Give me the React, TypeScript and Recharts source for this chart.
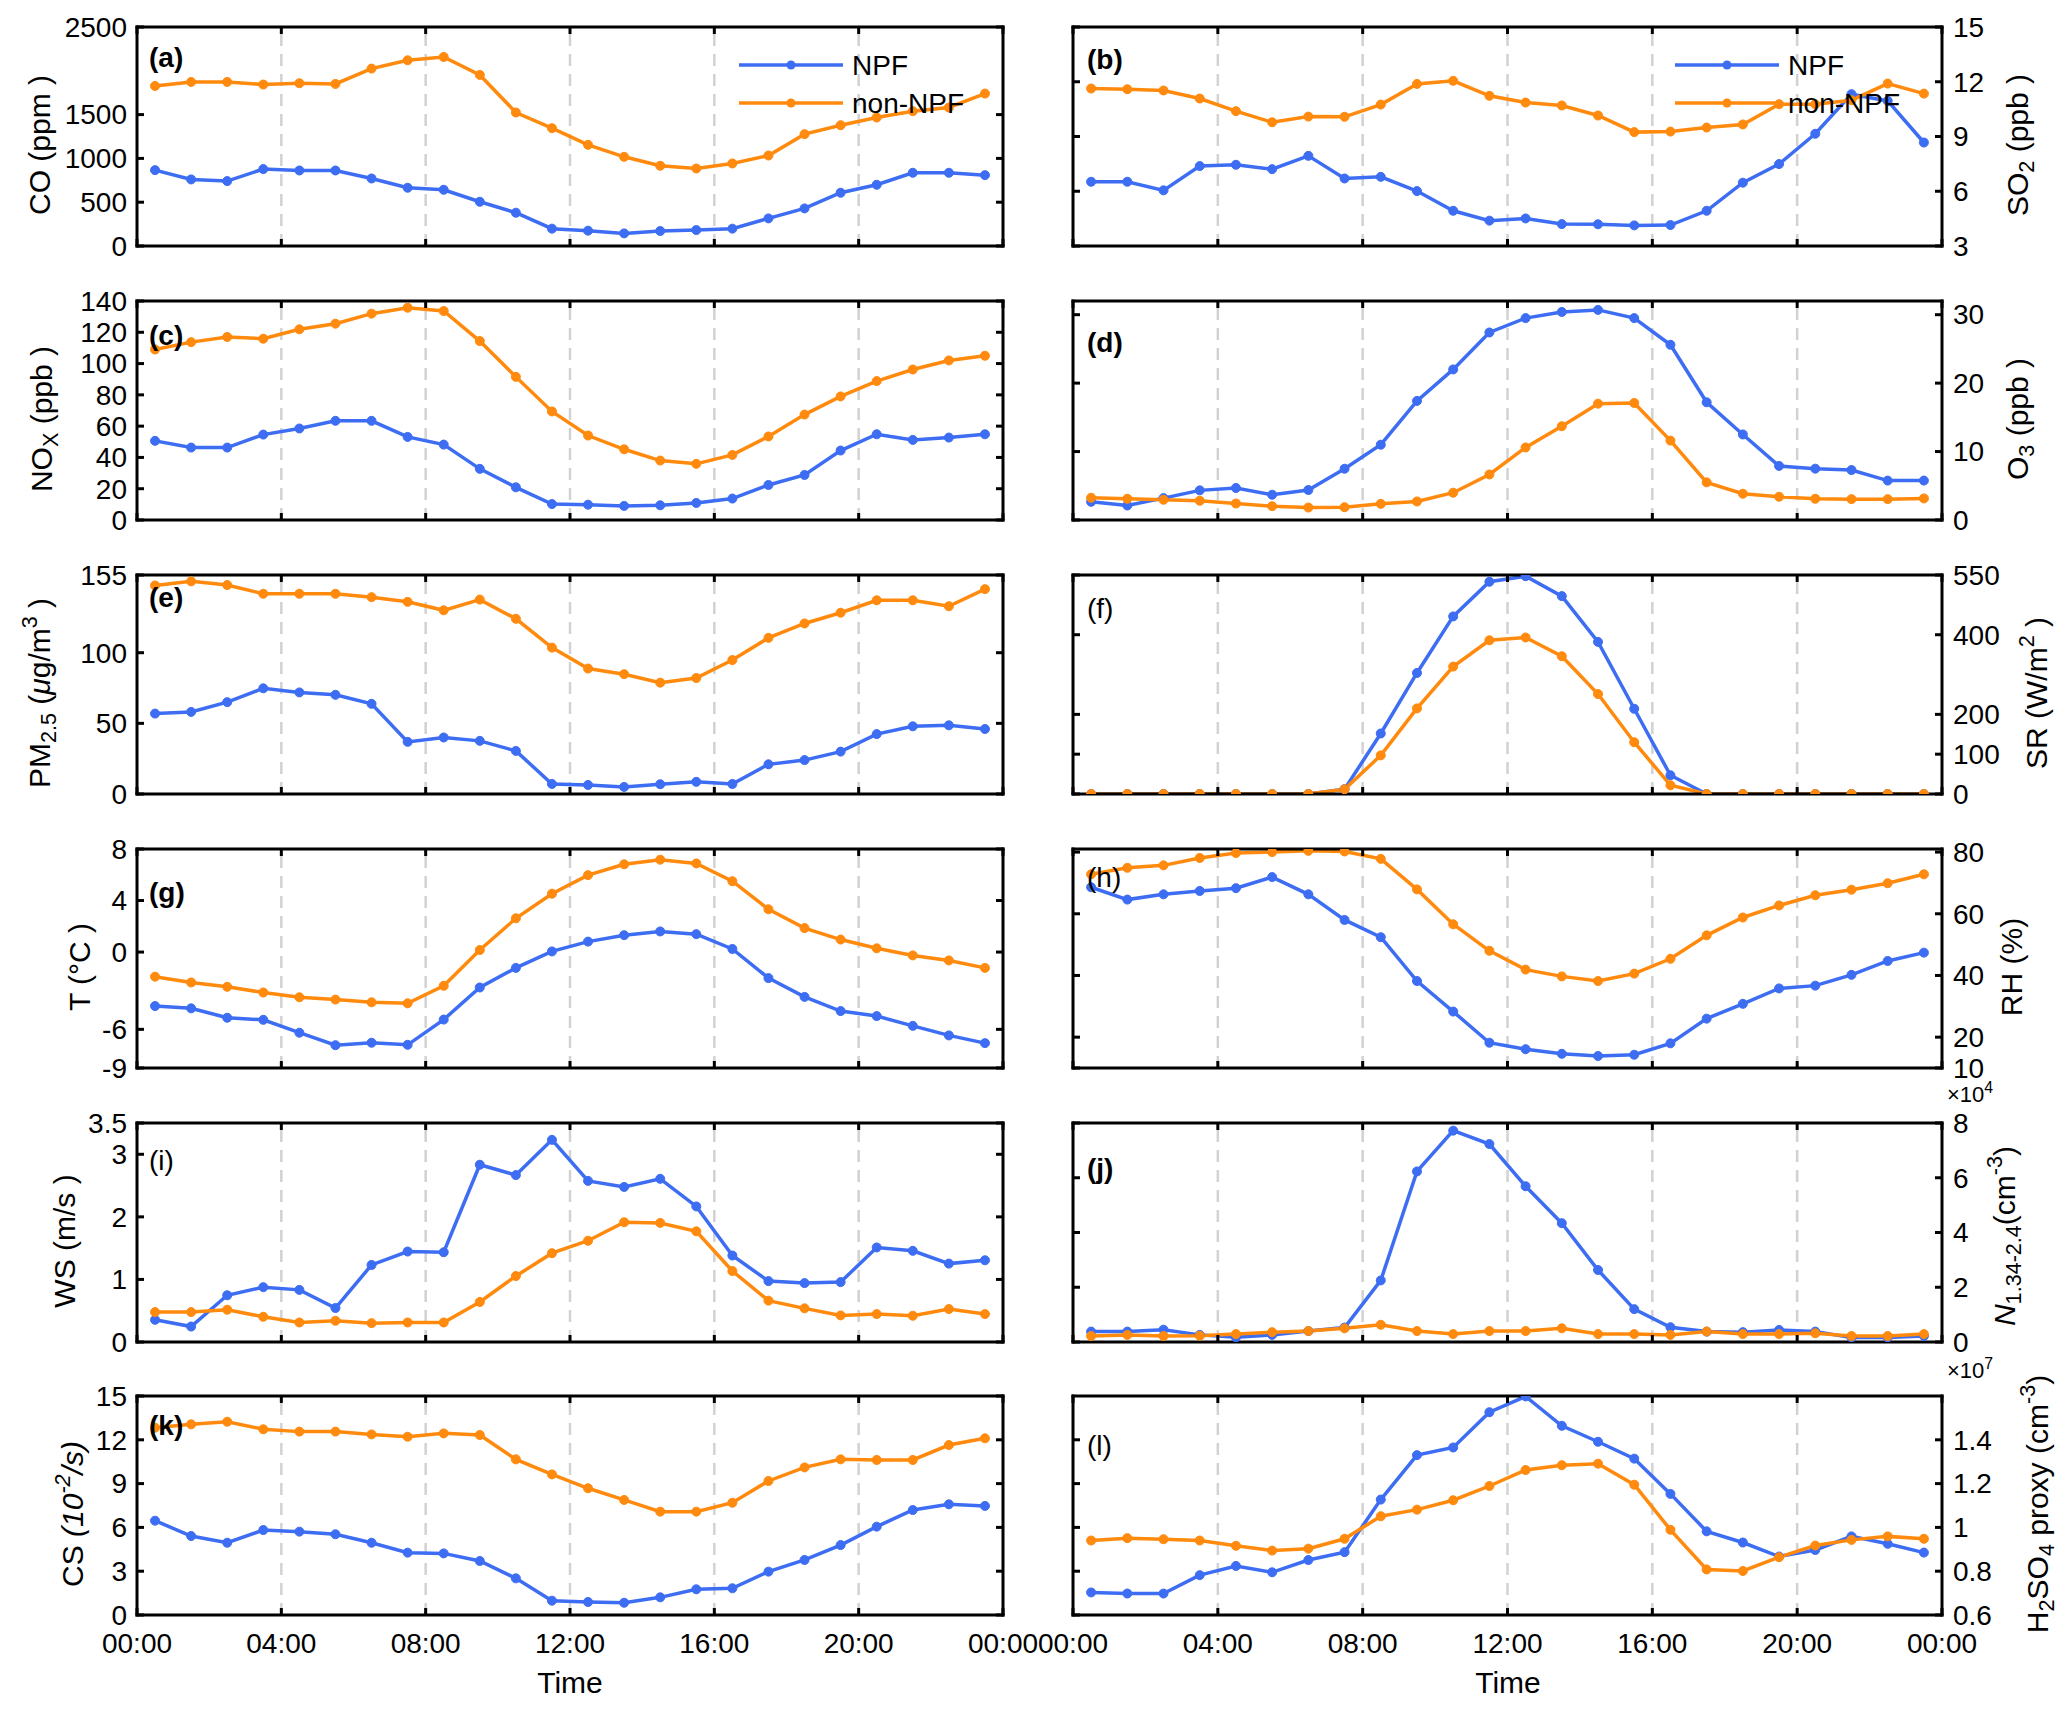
import React from "react";
import { LineChart, Line, XAxis, YAxis, ReferenceLine } from "recharts";

const FONT = "'Liberation Sans', Arial, Helvetica, sans-serif";
const BLUE = "#3D6DF2";
const ORANGE = "#FF8A0D";
const GRID = "#d2d2d2";
const TICK_LEN = 7;
const AX = 1; // reserved axis size

// ---------- categories ----------
const hours = [0.5, 1.5, 2.5, 3.5, 4.5, 5.5, 6.5, 7.5, 8.5, 9.5, 10.5, 11.5, 12.5, 13.5, 14.5, 15.5, 16.5, 17.5, 18.5, 19.5, 20.5, 21.5, 22.5, 23.5];
const xTickValues = [0, 4, 8, 12, 16, 20, 24];
const xTickLabels = ["00:00", "04:00", "08:00", "12:00", "16:00", "20:00", "00:00"];
const gridHours = [4, 8, 12, 16, 20];

// ---------- series ----------
const coNPF = [866, 760, 741, 878, 862, 862, 771, 665, 642, 505, 380, 198, 175, 144, 171, 182, 198, 315, 429, 608, 699, 836, 836, 809];
const coNon = [1827, 1873, 1873, 1843, 1858, 1850, 2025, 2120, 2158, 1953, 1524, 1345, 1155, 1018, 916, 885, 942, 1033, 1277, 1379, 1467, 1539, 1581, 1740];

const so2NPF = [6.52, 6.52, 6.05, 7.38, 7.45, 7.21, 7.94, 6.7, 6.79, 6.01, 4.93, 4.39, 4.51, 4.2, 4.19, 4.13, 4.15, 4.93, 6.47, 7.49, 9.15, 11.32, 10.95, 8.67];
const so2Non = [11.63, 11.59, 11.52, 11.08, 10.39, 9.78, 10.09, 10.08, 10.75, 11.88, 12.05, 11.23, 10.86, 10.7, 10.15, 9.24, 9.27, 9.49, 9.66, 10.77, 10.77, 10.99, 11.9, 11.35];

const noxNPF = [50.6, 46.3, 46.3, 54.6, 58.5, 63.4, 63.4, 53.1, 48.2, 32.7, 20.9, 10.2, 9.8, 9.0, 9.4, 10.9, 13.7, 22.4, 28.8, 44.4, 54.8, 51.2, 52.7, 54.8];
const noxNon = [109, 113.7, 117, 115.9, 121.9, 125.5, 131.9, 135.7, 133.6, 114.4, 91.5, 69.4, 54, 45.2, 38, 35.9, 41.6, 53.4, 67.4, 79, 88.8, 96.2, 102, 105];

const o3NPF = [2.66, 2.12, 3.2, 4.33, 4.68, 3.69, 4.38, 7.49, 11.0, 17.4, 22.0, 27.4, 29.5, 30.4, 30.7, 29.5, 25.6, 17.2, 12.5, 7.9, 7.5, 7.3, 5.76, 5.76];
const o3Non = [3.25, 3.1, 2.96, 2.81, 2.41, 2.02, 1.82, 1.87, 2.36, 2.71, 3.99, 6.65, 10.6, 13.7, 17.0, 17.1, 11.6, 5.5, 3.84, 3.4, 3.1, 3.05, 3.05, 3.15];

const pmNPF = [56.9, 58.1, 65, 74.8, 71.9, 70.2, 63.8, 36.9, 40, 37.6, 30.5, 7.1, 6.4, 5, 6.9, 8.6, 7.1, 21, 24, 30, 42.4, 47.9, 48.6, 46];
const pmNon = [147.6, 150.5, 147.9, 141.7, 141.7, 141.7, 139.3, 136, 130, 137.6, 124, 103.6, 88.8, 84.8, 78.8, 82.1, 94.8, 110.5, 120.7, 128.3, 137.1, 137.1, 132.9, 145];

const srNPF = [0, 0, 0, 0, 0, 0, 0, 12, 152, 304, 446, 533, 547, 497, 382, 214, 47, 0, 0, 0, 0, 0, 0, 0];
const srNon = [0, 0, 0, 0, 0, 0, 0, 12, 97, 215, 320, 386, 393, 346, 251, 130, 22, 0, 0, 0, 0, 0, 0, 0];

const tNPF = [-4.19, -4.37, -5.1, -5.26, -6.26, -7.23, -7.04, -7.2, -5.24, -2.75, -1.23, 0.05, 0.81, 1.31, 1.6, 1.39, 0.24, -2.02, -3.48, -4.58, -4.97, -5.73, -6.47, -7.07];
const tNon = [-1.91, -2.36, -2.7, -3.14, -3.51, -3.69, -3.9, -3.98, -2.62, 0.16, 2.62, 4.53, 5.97, 6.81, 7.17, 6.88, 5.5, 3.32, 1.86, 0.97, 0.29, -0.26, -0.65, -1.23];

const rhNPF = [68.6, 64.6, 66.3, 67.4, 68.3, 71.9, 66.3, 58, 52.4, 38.2, 28.3, 18.2, 16.1, 14.6, 13.9, 14.3, 18, 26, 30.8, 35.8, 36.7, 40.2, 44.7, 47.4];
const rhNon = [72.8, 74.9, 75.7, 78.1, 79.7, 80, 80.4, 80.2, 77.8, 67.9, 56.6, 48, 41.9, 39.7, 38.2, 40.6, 45.4, 53, 58.8, 62.7, 66, 67.8, 69.9, 72.8];

const wsNPF = [0.355, 0.247, 0.747, 0.876, 0.833, 0.543, 1.231, 1.446, 1.435, 2.833, 2.667, 3.231, 2.575, 2.478, 2.608, 2.167, 1.382, 0.973, 0.941, 0.957, 1.511, 1.457, 1.253, 1.306];
const wsNon = [0.478, 0.478, 0.516, 0.403, 0.312, 0.339, 0.301, 0.312, 0.312, 0.64, 1.054, 1.419, 1.618, 1.914, 1.903, 1.769, 1.134, 0.661, 0.538, 0.425, 0.446, 0.419, 0.527, 0.446];

const nNPF = [3800, 3800, 4500, 2600, 1700, 2600, 4000, 5300, 22500, 62300, 77200, 72300, 56900, 43400, 26300, 12000, 5400, 3800, 3600, 4400, 3800, 1600, 1600, 2200];
const nNon = [2200, 2600, 2200, 2300, 2900, 3600, 4000, 5000, 6300, 4000, 2900, 4000, 4000, 5000, 2900, 2900, 2600, 3800, 2900, 2900, 3200, 2200, 2200, 2900];

const csNPF = [6.46, 5.41, 4.95, 5.82, 5.71, 5.53, 4.95, 4.27, 4.22, 3.7, 2.51, 0.98, 0.89, 0.84, 1.21, 1.76, 1.83, 2.97, 3.77, 4.79, 6.05, 7.19, 7.58, 7.47];
const csNon = [12.83, 13.06, 13.24, 12.72, 12.56, 12.56, 12.37, 12.21, 12.44, 12.33, 10.66, 9.63, 8.68, 7.88, 7.08, 7.08, 7.69, 9.18, 10.11, 10.66, 10.62, 10.62, 11.64, 12.1];

const h2NPF = [7030000, 6980000, 6980000, 7820000, 8240000, 7950000, 8510000, 8870000, 11270000, 13300000, 13650000, 15260000, 15980000, 14640000, 13910000, 13140000, 11530000, 9820000, 9310000, 8670000, 8970000, 9590000, 9250000, 8850000];
const h2Non = [9400000, 9510000, 9460000, 9400000, 9160000, 8940000, 9030000, 9480000, 10510000, 10810000, 11240000, 11890000, 12620000, 12840000, 12910000, 11950000, 9890000, 8080000, 8010000, 8640000, 9170000, 9430000, 9590000, 9480000];

// ---------- y tick values ----------
const coTicks = [0, 500, 1000, 1500, 2500];
const so2Ticks = [3, 6, 9, 12, 15];
const noxTicks = [0, 20, 40, 60, 80, 100, 120, 140];
const o3Ticks = [0, 10, 20, 30];
const pmTicks = [0, 50, 100, 155];
const srTicks = [0, 100, 200, 400, 550];
const tTicks = [-9, -6, 0, 4, 8];
const rhTicks = [10, 20, 40, 60, 80];
const wsTicks = [0, 1, 2, 3, 3.5];
const nTicks = [0, 20000, 40000, 60000, 80000];
const csTicks = [0, 3, 6, 9, 12, 15];
const h2Ticks = [6000000, 8000000, 10000000, 12000000, 14000000];

// ---------- layout ----------
const PANEL_TOPS = [27, 301, 575, 849, 1123, 1396];
const PLOT_H = 219;
const PLOT_L = [137, 1073];
const PLOT_R = [1003, 1942];
const SVG_L = [0, 1005];
const SVG_W = [1040, 1062];

const sub = { fontSize: "0.72em", verticalAlign: "-0.3em", lineHeight: 0 } as React.CSSProperties;
const sup = { fontSize: "0.72em", verticalAlign: "0.6em", lineHeight: 0 } as React.CSSProperties;

const fmtPlain = (v: number) => String(v);
const fmtE4 = (v: number) => String(v / 10000);
const fmtE7 = (v: number) => String(Math.round(v / 100000) / 100);

const panels = [
  { id: "a", col: 0, row: 0, npf: coNPF, non: coNon, domain: [0, 2500], ticks: coTicks, fmt: fmtPlain, lt: 20, bold: true, lx: 40, ldy: 8, label: <>CO (ppm )</> },
  { id: "b", col: 1, row: 0, npf: so2NPF, non: so2Non, domain: [3, 15], ticks: so2Ticks, fmt: fmtPlain, lt: 22, bold: true, lx: 2018, ldy: 8, label: <>SO<span style={sub}>2</span> (ppb )</> },
  { id: "c", col: 0, row: 1, npf: noxNPF, non: noxNon, domain: [0, 140], ticks: noxTicks, fmt: fmtPlain, lt: 24, bold: true, lx: 42, ldy: 8, label: <>NO<span style={sub}>X</span> (ppb )</> },
  { id: "d", col: 1, row: 1, npf: o3NPF, non: o3Non, domain: [0, 32], ticks: o3Ticks, fmt: fmtPlain, lt: 31, bold: true, lx: 2018, ldy: 8, label: <>O<span style={sub}>3</span> (ppb )</> },
  { id: "e", col: 0, row: 2, npf: pmNPF, non: pmNon, domain: [0, 155], ticks: pmTicks, fmt: fmtPlain, lt: 12, bold: true, lx: 40, ldy: 8, label: <>PM<span style={sub}>2.5</span> (<i>μ</i>g/m<span style={sup}>3</span> )</> },
  { id: "f", col: 1, row: 2, npf: srNPF, non: srNon, domain: [0, 550], ticks: srTicks, fmt: fmtPlain, lt: 23, bold: false, lx: 2037, ldy: 8, label: <>SR (W/m<span style={sup}>2</span> )</> },
  { id: "g", col: 0, row: 3, npf: tNPF, non: tNon, domain: [-9, 8], ticks: tTicks, fmt: fmtPlain, lt: 33, bold: true, lx: 80, ldy: 8, label: <>T (°C )</> },
  { id: "h", col: 1, row: 3, npf: rhNPF, non: rhNon, domain: [10, 81], ticks: rhTicks, fmt: fmtPlain, lt: 18, bold: false, lx: 2012, ldy: 8, label: <>RH (%)</> },
  { id: "i", col: 0, row: 4, npf: wsNPF, non: wsNon, domain: [0, 3.5], ticks: wsTicks, fmt: fmtPlain, lt: 27, bold: false, lx: 65, ldy: 8, label: <>WS (m/s )</> },
  { id: "j", col: 1, row: 4, npf: nNPF, non: nNon, domain: [0, 80000], ticks: nTicks, fmt: fmtE4, lt: 35, bold: true, lx: 2005, ldy: 3, label: <><i>N</i><span style={sub}>1.34-2.4</span>(cm<span style={sup}>-3</span>)</> },
  { id: "k", col: 0, row: 5, npf: csNPF, non: csNon, domain: [0, 15], ticks: csTicks, fmt: fmtPlain, lt: 19, bold: true, lx: 73, ldy: 8, label: <>CS <i>(10<span style={sup}>-2</span>/s)</i></> },
  { id: "l", col: 1, row: 5, npf: h2NPF, non: h2Non, domain: [6000000, 16000000], ticks: h2Ticks, fmt: fmtE7, lt: 39, bold: false, lx: 2038, ldy: -2, label: <>H<span style={sub}>2</span>SO<span style={sub}>4</span> proxy (cm<span style={sup}>-3</span>)</> },
];

function makeXTick(side: "top" | "bottom", showLabel: boolean) {
  return (props: any) => {
    const { x, y, payload } = props;
    const dir = side === "bottom" ? -1 : 1;
    const idx = xTickValues.indexOf(payload.value);
    return (
      <g>
        <line x1={x} y1={y} x2={x} y2={y + dir * TICK_LEN} stroke="#000" strokeWidth={3} />
        {showLabel && (
          <text x={x} y={y + 38} textAnchor="middle" fontSize={28} fontFamily={FONT} fill="#000">
            {xTickLabels[idx]}
          </text>
        )}
      </g>
    );
  };
}

function makeYTick(side: "left" | "right", showLabel: boolean, fmt: (v: number) => string) {
  return (props: any) => {
    const { x, y, payload } = props;
    const dir = side === "left" ? 1 : -1;
    return (
      <g>
        <line x1={x} y1={y} x2={x + dir * TICK_LEN} y2={y} stroke="#000" strokeWidth={3} />
        {showLabel && (
          <text
            x={side === "left" ? x - 10 : x + 11}
            y={y}
            dy="0.35em"
            textAnchor={side === "left" ? "end" : "start"}
            fontSize={28}
            fontFamily={FONT}
            fill="#000"
          >
            {fmt(payload.value)}
          </text>
        )}
      </g>
    );
  };
}

const frameLine = { stroke: "#000", strokeWidth: 3, strokeLinecap: "square" as const };

function Panel({ p }: { p: any }) {
  const top = PANEL_TOPS[p.row];
  const svgLeft = SVG_L[p.col];
  const svgW = SVG_W[p.col];
  const svgH = p.row === 5 ? 320 : 274;
  const margin = {
    top: 27 - AX,
    bottom: svgH - 27 - PLOT_H - AX,
    left: PLOT_L[p.col] - svgLeft - AX,
    right: svgLeft + svgW - PLOT_R[p.col] - AX,
  };
  const data = hours.map((h, i) => ({ h, npf: p.npf[i], non: p.non[i] }));
  const isBottom = p.row === 5;
  return (
    <div style={{ position: "absolute", left: svgLeft, top: top - 27 }}>
      <LineChart width={svgW} height={svgH} data={data} margin={margin}>
        <XAxis
          xAxisId="b"
          dataKey="h"
          type="number"
          domain={[0, 24]}
          ticks={xTickValues}
          interval={0}
          allowDataOverflow
          orientation="bottom"
          height={AX}
          tickSize={0}
          tickMargin={0}
          axisLine={frameLine}
          tickLine={false}
          tick={makeXTick("bottom", isBottom)}
        />
        <XAxis
          xAxisId="t"
          dataKey="h"
          type="number"
          domain={[0, 24]}
          ticks={xTickValues}
          interval={0}
          allowDataOverflow
          orientation="top"
          height={AX}
          tickSize={0}
          tickMargin={0}
          axisLine={frameLine}
          tickLine={false}
          tick={makeXTick("top", false)}
        />
        <YAxis
          yAxisId="l"
          type="number"
          domain={p.domain}
          ticks={p.ticks}
          interval={0}
          allowDataOverflow
          orientation="left"
          width={AX}
          tickSize={0}
          tickMargin={0}
          axisLine={frameLine}
          tickLine={false}
          tick={makeYTick("left", p.col === 0, p.fmt)}
        />
        <YAxis
          yAxisId="r"
          type="number"
          domain={p.domain}
          ticks={p.ticks}
          interval={0}
          allowDataOverflow
          orientation="right"
          width={AX}
          tickSize={0}
          tickMargin={0}
          axisLine={frameLine}
          tickLine={false}
          tick={makeYTick("right", p.col === 1, p.fmt)}
        />
        {gridHours.map((g) => (
          <ReferenceLine key={g} x={g} xAxisId="b" yAxisId="l" stroke={GRID} strokeWidth={2.5} strokeDasharray="12 8" />
        ))}
        <Line
          type="linear"
          dataKey="npf"
          xAxisId="b"
          yAxisId="l"
          stroke={BLUE}
          strokeWidth={3.5}
          dot={{ r: 4.5, fill: BLUE, stroke: BLUE, strokeWidth: 1 }}
          activeDot={false}
          isAnimationActive={false}
        />
        <Line
          type="linear"
          dataKey="non"
          xAxisId="b"
          yAxisId="l"
          stroke={ORANGE}
          strokeWidth={3.5}
          dot={{ r: 4.5, fill: ORANGE, stroke: ORANGE, strokeWidth: 1 }}
          activeDot={false}
          isAnimationActive={false}
        />
      </LineChart>
    </div>
  );
}

function LegendBox({ x, y }: { x: number; y: number }) {
  const items = [
    { name: "NPF", color: BLUE },
    { name: "non-NPF", color: ORANGE },
  ];
  return (
    <svg style={{ position: "absolute", left: x, top: y, overflow: "visible" }} width={240} height={70}>
      {items.map((it, i) => (
        <g key={it.name}>
          <line x1={0} y1={i * 38} x2={104} y2={i * 38} stroke={it.color} strokeWidth={3.5} />
          <circle cx={52} cy={i * 38} r={4.5} fill={it.color} />
          <text x={113} y={i * 38 + 10} fontSize={28} fontFamily={FONT} fill="#000">
            {it.name}
          </text>
        </g>
      ))}
    </svg>
  );
}

export default function App() {
  return (
    <div
      style={{
        position: "absolute",
        left: 0,
        top: 0,
        width: 2067,
        height: 1711,
        background: "#fff",
        fontFamily: FONT,
        color: "#000",
        overflow: "hidden",
      }}
    >
      <style>{`.recharts-surface{overflow:visible}`}</style>
      {panels.map((p) => (
        <Panel key={p.id} p={p} />
      ))}
      {panels.map((p) => (
        <div
          key={"lt" + p.id}
          style={{
            position: "absolute",
            left: (p.col === 0 ? 150 : 1088) - 1,
            top: PANEL_TOPS[p.row] + p.lt - 3,
            fontSize: 28,
            lineHeight: 1,
            fontWeight: p.bold ? "bold" : "normal",
            whiteSpace: "nowrap",
          }}
        >
          ({p.id})
        </div>
      ))}
      {panels.map((p) => (
        <div
          key={"yl" + p.id}
          style={{
            position: "absolute",
            left: p.lx,
            top: PANEL_TOPS[p.row] + PLOT_H / 2 + p.ldy,
            transform: "translate(-50%, -50%) rotate(-90deg)",
            fontSize: 30,
            lineHeight: 1,
            whiteSpace: "nowrap",
          }}
        >
          {p.label}
        </div>
      ))}
      <LegendBox x={739} y={65} />
      <LegendBox x={1675} y={65} />
      <div style={{ position: "absolute", left: 1947, top: 1084, fontSize: 22, lineHeight: 1, whiteSpace: "nowrap" }}>
        ×10<span style={sup}>4</span>
      </div>
      <div style={{ position: "absolute", left: 1947, top: 1360, fontSize: 22, lineHeight: 1, whiteSpace: "nowrap" }}>
        ×10<span style={sup}>7</span>
      </div>
      <div style={{ position: "absolute", left: 570, top: 1668, transform: "translateX(-50%)", fontSize: 30, lineHeight: 1 }}>Time</div>
      <div style={{ position: "absolute", left: 1508, top: 1668, transform: "translateX(-50%)", fontSize: 30, lineHeight: 1 }}>Time</div>
    </div>
  );
}
